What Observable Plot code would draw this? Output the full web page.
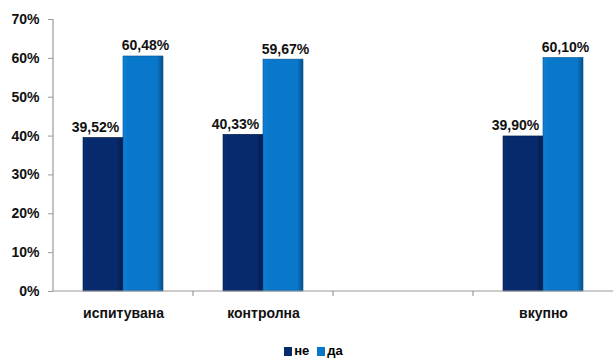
<!DOCTYPE html>
<html><head><meta charset="utf-8">
<script src="https://cdn.jsdelivr.net/npm/d3@7"></script>
<script src="https://cdn.jsdelivr.net/npm/@observablehq/plot@0.6"></script>
<style>
body{margin:0;background:#fff;font-family:"Liberation Sans",Arial,sans-serif;}
#chart svg{display:block;font-family:"Liberation Sans",Arial,sans-serif;}
#legend{height:30px;box-sizing:border-box;padding-top:12px;padding-left:14px;display:flex;justify-content:center;font-weight:bold;font-size:13px;line-height:16px;}
#legend .item{display:flex;align-items:center;margin:0 4px;}
#legend .sw{width:8px;height:9px;margin-right:2px;}
</style></head><body>
<div id="chart"></div><div id="legend"></div>
<script>
const categories = ["испитувана", "контролна", " ", "вкупно"];
const series = ["не", "да"];
const neValues = [0.3952, 0.4033, null, 0.3990];
const daValues = [0.6048, 0.5967, null, 0.6010];
const yTicks = [0, 0.1, 0.2, 0.3, 0.4, 0.5, 0.6, 0.7];
const colors = ["#062a6c", "#0a78ca"];
const darkEdges = ["#021a48", "#05508c"];

const rows = categories.flatMap((c, i) => [
  {cat: c, s: series[0], v: neValues[i]},
  {cat: c, s: series[1], v: daValues[i]}
]).filter(d => d.v != null);
const neRows = rows.filter(d => d.s === series[0]);
const daRows = rows.filter(d => d.s === series[1]);
const fmt = v => (v * 100).toFixed(2).replace(".", ",") + "%";

const chart = Plot.plot({
  width: 613, height: 330,
  marginLeft: 52, marginRight: 0, marginTop: 19, marginBottom: 39,
  style: {fontFamily: "'Liberation Sans', Arial, sans-serif", background: "#fff"},
  fx: {domain: categories, padding: 0, label: null},
  x: {domain: series, paddingInner: 0, paddingOuter: 0.75, axis: null},
  y: {domain: [0, 0.7], label: null},
  marks: [
    Plot.barY(neRows, {fx: "cat", x: "s", y: "v", fill: "url(#g0)", stroke: darkEdges[0], strokeWidth: 0.6}),
    Plot.barY(daRows, {fx: "cat", x: "s", y: "v", fill: "url(#g1)", stroke: darkEdges[1], strokeWidth: 0.6}),
    Plot.text(neRows, {fx: "cat", x: "s", y: "v", text: d => fmt(d.v), dy: -6, dx: -8, lineAnchor: "bottom", fontWeight: "bold", fontSize: 14, fill: "#111"}),
    Plot.text(daRows, {fx: "cat", x: "s", y: "v", text: d => fmt(d.v), dy: -6, dx: 2, lineAnchor: "bottom", fontWeight: "bold", fontSize: 14, fill: "#111"}),
    Plot.axisY({ticks: yTicks, tickFormat: d => Math.round(d * 100) + "%", tickSize: 5, tickPadding: 9, fontWeight: "bold", fontSize: 14, stroke: "#9a9a9a", fill: "#111", label: null, facetAnchor: "left"}),
    Plot.axisFx({anchor: "bottom", tickSize: 0, tickPadding: 17, fontWeight: "bold", fontSize: 14, fill: "#111", label: null})
  ]
});

const svg = d3.select(chart);
const defs = svg.insert("defs", ":first-child");
colors.forEach((c, i) => {
  const g = defs.append("linearGradient").attr("id", "g" + i).attr("x1", 0).attr("x2", 1).attr("y1", 0).attr("y2", 0);
  g.append("stop").attr("offset", "0%").attr("stop-color", d3.color(c).brighter(0.25));
  g.append("stop").attr("offset", "12%").attr("stop-color", c);
  g.append("stop").attr("offset", "85%").attr("stop-color", c);
  g.append("stop").attr("offset", "100%").attr("stop-color", darkEdges[i]);
});
const y = chart.scale("y");
const fx = chart.scale("fx");
const y0 = y.apply(0), yTop = y.apply(0.7);
const x0 = fx.apply(categories[0]);
const x1 = fx.apply(categories[categories.length - 1]) + fx.bandwidth;
const axisColor = "#9a9a9a";
svg.append("line").attr("x1", x0).attr("x2", x0).attr("y1", y0).attr("y2", yTop).attr("stroke", axisColor).attr("stroke-width", 1.2);
svg.append("line").attr("x1", x0).attr("x2", x1).attr("y1", y0).attr("y2", y0).attr("stroke", axisColor).attr("stroke-width", 1.2);
categories.forEach((c, i) => {
  if (i === 0) return;
  const xb = fx.apply(c);
  svg.append("line").attr("x1", xb).attr("x2", xb).attr("y1", y0).attr("y2", y0 + 5).attr("stroke", axisColor).attr("stroke-width", 1.2);
});

document.getElementById("chart").appendChild(chart);
const legend = d3.select("#legend");
series.forEach((s, i) => {
  const it = legend.append("div").attr("class", "item");
  it.append("div").attr("class", "sw").style("background", colors[i]);
  it.append("span").text(s);
});
</script>
</body></html>
